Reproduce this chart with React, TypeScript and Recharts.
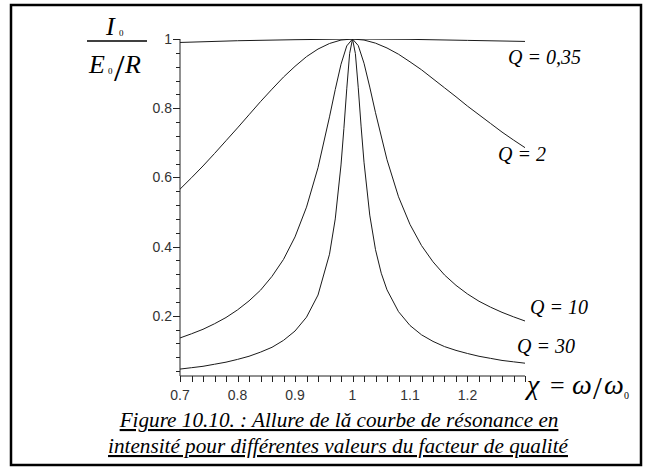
import React from "react";
import { LineChart, Line, XAxis, YAxis } from "recharts";

// Q = 0,35 : almost flat near 1
const q035X = [0.7, 0.8, 0.9, 1.0, 1.1, 1.2, 1.3];
const q035Y = [0.99, 0.995, 0.998, 1.0, 0.999, 0.996, 0.993];

const q2X = [0.7, 0.72, 0.74, 0.76, 0.78, 0.8, 0.82, 0.84, 0.86, 0.88, 0.9, 0.92, 0.94, 0.96, 0.98, 1.0,
  1.02, 1.04, 1.06, 1.08, 1.1, 1.12, 1.14, 1.16, 1.18, 1.2, 1.22, 1.24, 1.26, 1.28, 1.3];
const q2Y = [0.566, 0.599, 0.633, 0.669, 0.706, 0.743, 0.781, 0.819, 0.855, 0.89, 0.921, 0.949, 0.971, 0.987, 0.997, 1.0,
  0.997, 0.988, 0.974, 0.956, 0.934, 0.911, 0.885, 0.859, 0.833, 0.806, 0.781, 0.756, 0.731, 0.708, 0.686];

const q10X = [0.7, 0.72, 0.74, 0.76, 0.78, 0.8, 0.82, 0.84, 0.86, 0.88, 0.9, 0.92, 0.94, 0.96, 0.97, 0.98, 0.99, 1.0,
  1.01, 1.02, 1.03, 1.04, 1.06, 1.08, 1.1, 1.12, 1.14, 1.16, 1.18, 1.2, 1.22, 1.24, 1.26, 1.28, 1.3];
const q10Y = [0.136, 0.148, 0.161, 0.177, 0.195, 0.217, 0.243, 0.274, 0.314, 0.363, 0.428, 0.514, 0.628, 0.775, 0.854, 0.927, 0.98, 1.0,
  0.981, 0.93, 0.861, 0.787, 0.651, 0.544, 0.464, 0.403, 0.356, 0.318, 0.288, 0.263, 0.242, 0.225, 0.21, 0.197, 0.185];

const q30X = [0.7, 0.72, 0.74, 0.76, 0.78, 0.8, 0.82, 0.84, 0.86, 0.88, 0.9, 0.92, 0.94, 0.96, 0.97, 0.98, 0.985, 0.99, 0.995, 1.0,
  1.005, 1.01, 1.015, 1.02, 1.03, 1.04, 1.05, 1.06, 1.08, 1.1, 1.12, 1.14, 1.16, 1.18, 1.2, 1.22, 1.24, 1.26, 1.28, 1.3];
const q30Y = [0.046, 0.05, 0.054, 0.06, 0.066, 0.074, 0.083, 0.095, 0.109, 0.129, 0.156, 0.196, 0.26, 0.378, 0.48, 0.636, 0.741, 0.856, 0.958, 1.0,
  0.958, 0.859, 0.746, 0.644, 0.491, 0.391, 0.323, 0.275, 0.212, 0.172, 0.145, 0.126, 0.111, 0.1, 0.091, 0.083, 0.077, 0.071, 0.067, 0.063];

const xTicks = [0.7, 0.72, 0.74, 0.76, 0.78, 0.8, 0.82, 0.84, 0.86, 0.88, 0.9, 0.92, 0.94, 0.96, 0.98, 1.0,
  1.02, 1.04, 1.06, 1.08, 1.1, 1.12, 1.14, 1.16, 1.18, 1.2, 1.22, 1.24, 1.26, 1.28, 1.3];
const xLabels = ["0.7", "0.8", "0.9", "1", "1.1", "1.2"];
const yTicks = [0.04, 0.08, 0.12, 0.16, 0.2, 0.24, 0.28, 0.32, 0.36, 0.4, 0.44, 0.48, 0.52, 0.56, 0.6,
  0.64, 0.68, 0.72, 0.76, 0.8, 0.84, 0.88, 0.92, 0.96, 1.0];
const yLabels = ["0.2", "0.4", "0.6", "0.8", "1"];

const toPoints = (xs: number[], ys: number[]) => xs.map((x, i) => ({ x, y: ys[i] }));

const series = [
  { name: "Q = 0,35", data: toPoints(q035X, q035Y) },
  { name: "Q = 2", data: toPoints(q2X, q2Y) },
  { name: "Q = 10", data: toPoints(q10X, q10Y) },
  { name: "Q = 30", data: toPoints(q30X, q30Y) },
];

const fmt = (v: number) => String(Math.round(v * 100) / 100);
const TICK_FONT = "'Liberation Sans', Arial, sans-serif";
const SERIF = "'Liberation Serif', 'Times New Roman', serif";
const AXIS = "#222";

const XTick = (props: any) => {
  const { x, y, payload } = props;
  const label = fmt(payload.value);
  const px = Math.round(x) + 0.5;
  return (
    <g>
      <line x1={px} y1={y} x2={px} y2={y + 6} stroke={AXIS} strokeWidth={1} />
      {xLabels.includes(label) && (
        <text x={x} y={y + 24} textAnchor="middle" fontSize={14} fill="#333" stroke="none" fontFamily={TICK_FONT}>
          {label}
        </text>
      )}
    </g>
  );
};

const YTick = (props: any) => {
  const { x, y, payload } = props;
  const label = fmt(payload.value);
  const major = yLabels.includes(label);
  const py = Math.round(y) + 0.5;
  return (
    <g>
      <line x1={x - (major ? 7 : 4)} y1={py} x2={x} y2={py} stroke={AXIS} strokeWidth={1} />
      {major && (
        <text x={x - 8} y={y + 5} textAnchor="end" fontSize={14} fill="#333" stroke="none" fontFamily={TICK_FONT}>
          {label}
        </text>
      )}
    </g>
  );
};

export default function App() {
  return (
    <div style={{ position: "absolute", left: 0, top: 0, width: 652, height: 470, background: "#fff" }}>
      <LineChart width={652} height={470} margin={{ top: 39, right: 127, bottom: 64, left: 120 }}>
        <XAxis
          dataKey="x"
          type="number"
          domain={[0.7, 1.3]}
          ticks={xTicks}
          interval={0}
          height={30}
          tickSize={0}
          tickMargin={0}
          tickLine={false}
          tick={<XTick />}
          axisLine={{ stroke: AXIS, strokeWidth: 1 }}
          allowDataOverflow
        />
        <YAxis
          type="number"
          domain={[0.026, 1]}
          ticks={yTicks}
          interval={0}
          width={60}
          tickSize={0}
          tickMargin={0}
          tickLine={false}
          tick={<YTick />}
          axisLine={{ stroke: AXIS, strokeWidth: 1 }}
          allowDataOverflow
        />
        {series.map((s) => (
          <Line
            key={s.name}
            data={s.data}
            dataKey="y"
            type="linear"
            stroke="#1a1a1a"
            strokeWidth={1}
            dot={false}
            isAnimationActive={false}
          />
        ))}
      </LineChart>
      <svg width={652} height={470} style={{ position: "absolute", left: 0, top: 0, pointerEvents: "none" }}>
        <rect x={11} y={5} width={630} height={460} fill="none" stroke="#000" strokeWidth={2.5} />
        {/* y axis title */}
        <g fontFamily={SERIF} fill="#000">
          <text x={106} y={35} fontSize={26} fontStyle="italic">I</text>
          <text x={119} y={36} fontSize={9}>0</text>
          <line x1={87} y1={41} x2={147} y2={41} stroke="#000" strokeWidth={1.5} />
          <text x={89} y={73} fontSize={26} fontStyle="italic">E</text>
          <text x={108} y={74} fontSize={9}>0</text>
          <text x={114} y={81} fontSize={38}>/</text>
          <text x={125} y={73} fontSize={26} fontStyle="italic">R</text>
        </g>
        {/* x axis title */}
        <text x={527} y={394} fontFamily={SERIF} fontSize={28} fontStyle="italic" fill="#000">
          χ
          <tspan x={550} fontSize={26} fontStyle="normal">=</tspan>
          <tspan x={572}>ω</tspan>
          <tspan x={593} y={399} fontSize={32} fontStyle="normal">/</tspan>
          <tspan x={604} y={394}>ω</tspan>
          <tspan x={624} y={399} fontSize={10} fontStyle="normal">0</tspan>
        </text>
        {/* curve labels */}
        <g fontFamily={SERIF} fontStyle="italic" fontSize={20} fill="#000">
          <text x={508} y={64}>Q = 0,35</text>
          <text x={498} y={161}>Q = 2</text>
          <text x={530} y={314}>Q = 10</text>
          <text x={517} y={353}>Q = 30</text>
        </g>
        {/* caption */}
        <g fontFamily={SERIF} fontStyle="italic" fontSize={21.2} fill="#000" textAnchor="middle">
          <text x={339} y={427} textDecoration="underline">
            {"Figure 10.10. : Allure de la\u030C courbe de résonance en"}
          </text>
          <text x={338} y={453} textDecoration="underline">
            intensité pour différentes valeurs du facteur de qualité
          </text>
        </g>
      </svg>
    </div>
  );
}
